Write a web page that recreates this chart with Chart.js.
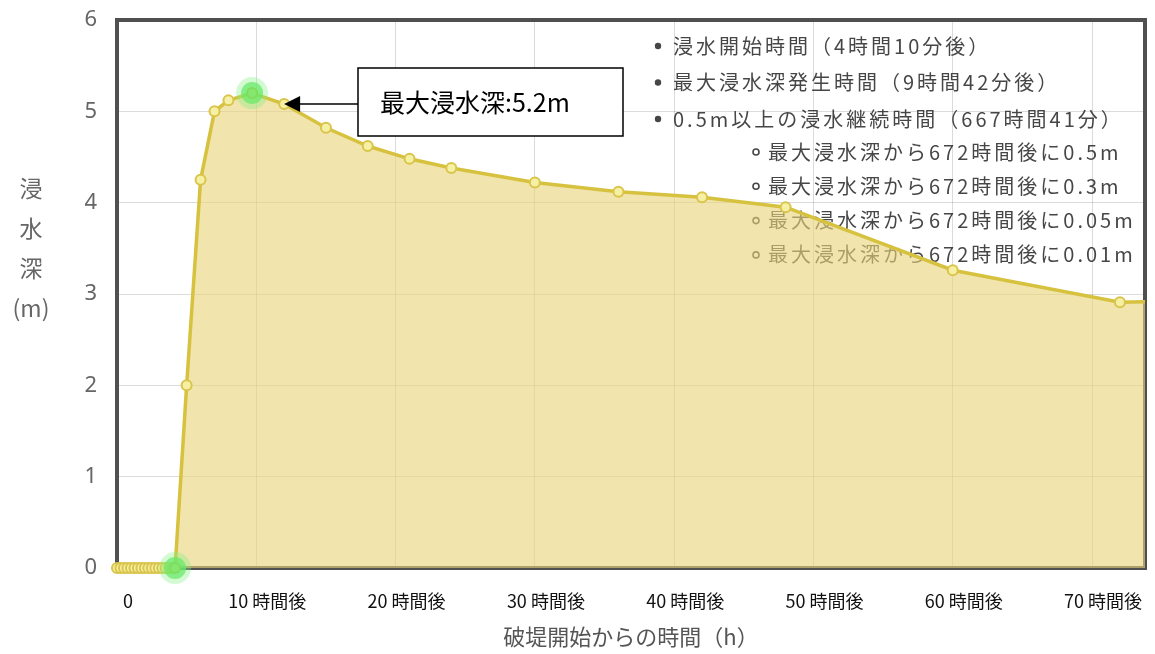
<!DOCTYPE html>
<html lang="ja">
<head>
<meta charset="utf-8">
<title>浸水深の時間変化</title>
<script src="https://cdn.jsdelivr.net/npm/chart.js@4.4.1/dist/chart.umd.min.js"></script>
<style>
    html, body { margin: 0; padding: 0; background: #fff; overflow: hidden; }
    #wrap { position: relative; width: 1155px; height: 654px; }
    #wrap canvas { display: block; }
</style>
</head>
<body>
<div id="wrap"><canvas id="chartShinsui" width="1155" height="654"></canvas></div>
<script>
// 破堤開始からの経過時間 (h) と浸水深 (m)
const hours = [0, 0.25, 0.5, 0.75, 1, 1.25, 1.5, 1.75, 2, 2.25, 2.5, 2.75, 3, 3.25, 3.5, 3.75, 4, 4.17,
    5, 6, 7, 8, 9.7, 12, 15, 18, 21, 24, 30, 36, 42, 48, 60, 72, 84];
const depths = [0, 0, 0, 0, 0, 0, 0, 0, 0, 0, 0, 0, 0, 0, 0, 0, 0, 0,
    2.0, 4.25, 5.0, 5.12, 5.2, 5.08, 4.82, 4.62, 4.48, 4.38, 4.22, 4.12, 4.06, 3.95, 3.26, 2.91, 2.95];

// 浸水開始・最大浸水深の強調点
const highlightHours = [4.17, 9.7];
const highlightDepths = [0, 5.2];

const xTickValues = [0, 10, 20, 30, 40, 50, 60, 70];
const xTickLabels = ['0', '10 時間後', '20 時間後', '30 時間後', '40 時間後', '50 時間後', '60 時間後', '70 時間後'];
const yTickValues = [0, 1, 2, 3, 4, 5, 6];

const summaryLines = [
    '浸水開始時間（4時間10分後）',
    '最大浸水深発生時間（9時間42分後）',
    '0.5m以上の浸水継続時間（667時間41分）'
];
const recessionLines = [
    '最大浸水深から672時間後に0.5m',
    '最大浸水深から672時間後に0.3m',
    '最大浸水深から672時間後に0.05m',
    '最大浸水深から672時間後に0.01m'
];

const yTitleChars = ['浸', '水', '深', '(m)'];
const calloutText = '最大浸水深:5.2m';
const calloutHour = 12;

const CJK = '"Noto Sans CJK JP", "Noto Sans", sans-serif';

const toPoints = (xs, ys) => xs.map((x, i) => ({ x, y: ys[i] }));

// 枠線と右上の説明文 (データより下に描く)
const backdropPlugin = {
    id: 'backdrop',
    beforeDatasetsDraw(chart) {
        const { ctx, chartArea: a } = chart;
        ctx.save();
        ctx.strokeStyle = '#505050';
        ctx.lineWidth = 4;
        ctx.strokeRect(a.left, a.top, a.right - a.left, a.bottom - a.top);

        ctx.font = '20px ' + CJK;
        ctx.letterSpacing = '3px';
        ctx.fillStyle = 'rgba(50, 50, 50, 0.9)';
        ctx.strokeStyle = 'rgba(50, 50, 50, 0.9)';
        ctx.textBaseline = 'middle';
        ctx.textAlign = 'left';
        summaryLines.forEach((line, i) => {
            const cy = 46 + i * 36.5;
            ctx.beginPath();
            ctx.arc(658, cy, 3.2, 0, Math.PI * 2);
            ctx.fill();
            ctx.fillText(line, 673, cy);
        });
        ctx.lineWidth = 1.6;
        recessionLines.forEach((line, i) => {
            const cy = 152 + i * 34.3;
            ctx.beginPath();
            ctx.arc(756, cy, 3, 0, Math.PI * 2);
            ctx.stroke();
            ctx.fillText(line, 768, cy);
        });
        ctx.letterSpacing = '0px';

        // 縦書きの軸タイトル
        ctx.font = '23px ' + CJK;
        ctx.fillStyle = '#666';
        ctx.textAlign = 'center';
        yTitleChars.forEach((ch, i) => {
            ctx.fillText(ch, 31, 188 + i * 40);
        });
        ctx.restore();
    }
};

// 最大浸水深の吹き出し
const calloutPlugin = {
    id: 'callout',
    afterDatasetsDraw(chart) {
        const { ctx, scales: { x, y } } = chart;
        const idx = hours.indexOf(calloutHour);
        const tipX = x.getPixelForValue(hours[idx]);
        const tipY = y.getPixelForValue(depths[idx]);
        const box = { left: 358, top: 68, right: 623, bottom: 136 };

        ctx.save();
        ctx.fillStyle = '#fff';
        ctx.fillRect(box.left, box.top, box.right - box.left, box.bottom - box.top);
        ctx.strokeStyle = '#000';
        ctx.lineWidth = 1.5;
        ctx.strokeRect(box.left, box.top, box.right - box.left, box.bottom - box.top);

        ctx.beginPath();
        ctx.moveTo(box.left, tipY);
        ctx.lineTo(tipX + 14, tipY);
        ctx.stroke();
        ctx.beginPath();
        ctx.moveTo(tipX, tipY);
        ctx.lineTo(tipX + 16, tipY - 8);
        ctx.lineTo(tipX + 16, tipY + 8);
        ctx.closePath();
        ctx.fillStyle = '#000';
        ctx.fill();

        ctx.font = '25px ' + CJK;
        ctx.textBaseline = 'middle';
        ctx.textAlign = 'left';
        ctx.fillText(calloutText, 380, (box.top + box.bottom) / 2);
        ctx.restore();
    }
};

const buildShinsuiChart = () => {
    const canvas = document.getElementById('chartShinsui');
    if (!canvas || typeof Chart === 'undefined') return;

    new Chart(canvas.getContext('2d'), {
        type: 'line',
        data: {
            datasets: [{
                label: '強調点',
                data: toPoints(highlightHours, highlightDepths),
                showLine: false,
                clip: false,
                pointRadius: 11,
                pointBackgroundColor: 'rgba(95, 228, 95, 0.75)',
                pointBorderColor: 'rgba(130, 240, 130, 0.35)',
                pointBorderWidth: 10
            }, {
                label: '浸水深',
                data: toPoints(hours, depths),
                clip: { left: 10, top: 0, right: 0, bottom: 10 },
                borderColor: '#d6c23e',
                borderWidth: 3.5,
                backgroundColor: 'rgba(232, 211, 122, 0.62)',
                fill: 'origin',
                tension: 0,
                pointRadius: 5,
                pointBackgroundColor: '#f6f0a4',
                pointBorderColor: '#d9c54c',
                pointBorderWidth: 2
            }]
        },
        options: {
            responsive: false,
            animation: false,
            devicePixelRatio: 1,
            // 点の大きさによる自動余白を切り、描画領域を固定する
            layout: { autoPadding: false, padding: { top: 0, right: 10, left: 0, bottom: 0 } },
            scales: {
                x: {
                    type: 'linear',
                    min: 0,
                    max: 73.8,
                    afterFit: (scale) => {
                        scale.height = 86;
                        scale.paddingLeft = 0;
                        scale.paddingRight = 0;
                    },
                    afterBuildTicks: (scale) => {
                        scale.ticks = xTickValues.map((value) => ({ value }));
                    },
                    grid: { color: 'rgba(0, 0, 0, 0.14)', drawTicks: false },
                    border: { display: false },
                    ticks: {
                        autoSkip: false,
                        maxRotation: 0,
                        padding: 22,
                        labelOffset: 11,
                        color: '#111',
                        font: { family: '"Liberation Sans Narrow", ' + CJK, size: 18 },
                        callback: (value) => xTickLabels[xTickValues.indexOf(value)]
                    },
                    title: {
                        display: true,
                        text: '破堤開始からの時間（h）',
                        color: '#555',
                        font: { family: CJK, size: 22 },
                        padding: { top: 0, bottom: 4 }
                    }
                },
                y: {
                    min: 0,
                    max: 6,
                    afterFit: (scale) => {
                        scale.width = 117;
                        scale.paddingTop = 20;
                        scale.paddingBottom = 0;
                    },
                    afterBuildTicks: (scale) => {
                        scale.ticks = yTickValues.map((value) => ({ value }));
                    },
                    grid: { color: 'rgba(0, 0, 0, 0.14)', drawTicks: false },
                    border: { display: false },
                    ticks: {
                        padding: 20,
                        color: '#666',
                        font: { family: '"Noto Sans", sans-serif', size: 22 }
                    }
                }
            },
            plugins: {
                legend: { display: false },
                tooltip: { enabled: false }
            }
        },
        plugins: [backdropPlugin, calloutPlugin]
    });
};

document.addEventListener('DOMContentLoaded', buildShinsuiChart);
</script>
</body>
</html>
